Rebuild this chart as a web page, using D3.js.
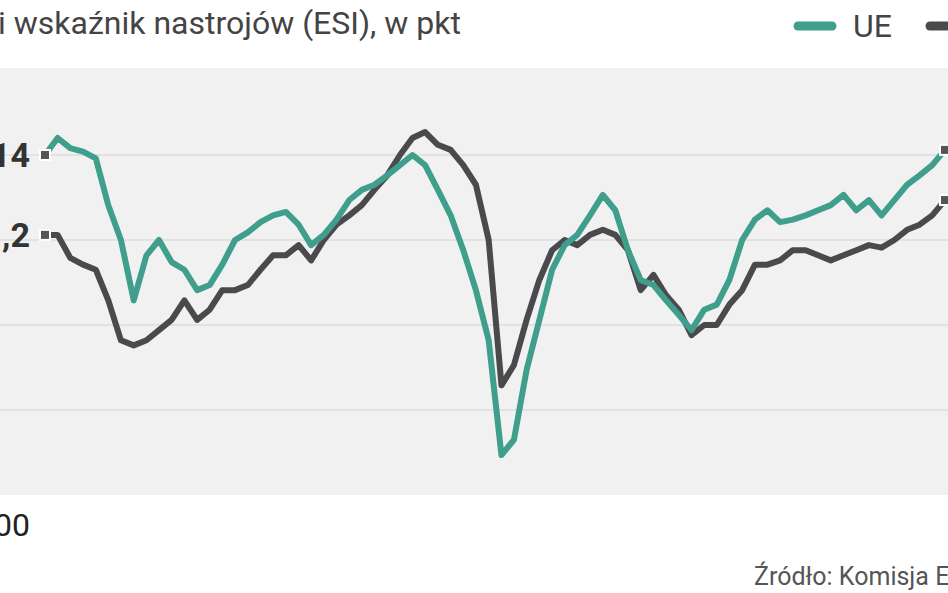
<!DOCTYPE html>
<html><head><meta charset="utf-8">
<script src="https://cdn.jsdelivr.net/npm/d3@7"></script>
<style>body{margin:0;background:#fff;overflow:hidden}</style>
</head><body>
<div id="chart"></div>
<script>
// quarterly readings, 2000Q1 .. 2017Q4
var ueValues = [110.0,112.0,110.8,110.4,109.6,104.1,100.0,92.9,98.2,100.0,97.4,96.5,94.1,94.7,97.1,100.0,100.9,102.1,102.9,103.3,101.8,99.4,100.6,102.4,104.7,105.9,106.5,107.6,108.8,110.0,108.8,105.9,102.9,98.8,94.1,88.2,74.7,76.5,84.7,90.6,96.5,99.4,100.6,102.9,105.3,103.5,98.8,95.3,94.7,92.9,91.2,89.4,91.8,92.4,95.3,100.0,102.4,103.5,102.1,102.4,102.9,103.5,104.1,105.3,103.5,104.7,102.9,104.7,106.5,107.6,108.8,110.6];
var plValues = [100.6,100.6,97.9,97.1,96.5,92.9,88.2,87.6,88.2,89.4,90.6,92.9,90.6,91.8,94.1,94.1,94.7,96.5,98.2,98.2,99.4,97.6,100.0,101.8,102.9,104.1,105.9,107.6,110.0,112.0,112.7,111.2,110.6,108.8,106.5,100.0,82.9,85.3,90.6,95.3,98.8,100.0,99.4,100.6,101.2,100.6,98.8,94.1,95.9,93.5,91.8,88.8,90.0,90.0,92.4,94.1,97.1,97.1,97.6,98.8,98.8,98.2,97.6,98.2,98.8,99.4,99.1,100.0,101.2,101.8,102.9,104.7];
var gridValues = [110, 100, 90, 80];
var startLabels = ["114", "11,2"];
var yearLabel = "2000";

var width = 948, height = 593;
var narrow = "'Liberation Sans Narrow', 'Roboto', sans-serif";
var svg = d3.select("#chart").append("svg")
	.attr("width", width)
	.attr("height", height)
	.style("font-family", narrow);

var plotTop = 68, plotBottom = 495;

var x = d3.scaleTime()
	.domain([new Date(2000, 0, 1), new Date(2017, 9, 1)])
	.range([45, 945]);
var y = d3.scaleLinear()
	.domain([70, 110])
	.range([plotBottom, 155]);

function dateAt(i){ return new Date(2000, i * 3, 1); }

// plot background
svg.append("rect")
	.attr("x", 0).attr("y", plotTop)
	.attr("width", width).attr("height", plotBottom - plotTop)
	.attr("fill", "#f1f1f1");

// gridlines
svg.selectAll(".grid").data(gridValues).enter().append("line")
	.attr("x1", 0).attr("x2", width)
	.attr("y1", function(d){ return y(d); })
	.attr("y2", function(d){ return y(d); })
	.attr("stroke", "#dcdcdc")
	.attr("stroke-width", 1.5);

var line = d3.line()
	.x(function(d, i){ return x(dateAt(i)); })
	.y(function(d){ return y(d); });

svg.append("path").datum(plValues)
	.attr("d", line).attr("fill", "none")
	.attr("stroke", "#4a4a4d").attr("stroke-width", 6)
	.attr("stroke-linejoin", "round");
svg.append("path").datum(ueValues)
	.attr("d", line).attr("fill", "none")
	.attr("stroke", "#3f9e8c").attr("stroke-width", 6)
	.attr("stroke-linejoin", "round");

// end markers
[ueValues, plValues].forEach(function(vals){
	[0, vals.length - 1].forEach(function(i){
		svg.append("rect")
			.attr("x", x(dateAt(i)) - 5).attr("y", y(vals[i]) - 5)
			.attr("width", 10).attr("height", 10)
			.attr("fill", "#555").attr("stroke", "#fff").attr("stroke-width", 2);
	});
});

// start value labels
svg.selectAll(".startLab").data(startLabels).enter().append("text")
	.attr("x", 30)
	.attr("y", function(d, i){ return y([ueValues, plValues][i][0]) + 12; })
	.attr("text-anchor", "end")
	.attr("font-size", "34px")
	.attr("font-weight", "bold")
	.attr("fill", "#333")
	.text(function(d){ return d; });

svg.append("text")
	.attr("x", 30).attr("y", 536)
	.attr("text-anchor", "end")
	.attr("font-size", "32px")
	.attr("fill", "#222")
	.text(yearLabel);

// title
svg.append("text")
	.attr("x", -2).attr("y", 34)
	.attr("font-size", "32px")
	.attr("fill", "#444")
	.text("i wskaźnik nastrojów (ESI), w pkt");

// legend
svg.append("line").attr("x1", 798).attr("x2", 832).attr("y1", 26).attr("y2", 26)
	.attr("stroke", "#3f9e8c").attr("stroke-width", 9).attr("stroke-linecap", "round");
svg.append("text").attr("x", 853).attr("y", 37)
	.attr("font-size", "32px").attr("fill", "#444").text("UE");
svg.append("line").attr("x1", 930).attr("x2", 960).attr("y1", 26).attr("y2", 26)
	.attr("stroke", "#4a4a4d").attr("stroke-width", 9).attr("stroke-linecap", "round");

// source
svg.append("text")
	.attr("x", 754).attr("y", 585)
	.attr("font-size", "25px")
	.attr("fill", "#555")
	.text("Źródło: Komisja Europejska");
</script>
</body></html>
